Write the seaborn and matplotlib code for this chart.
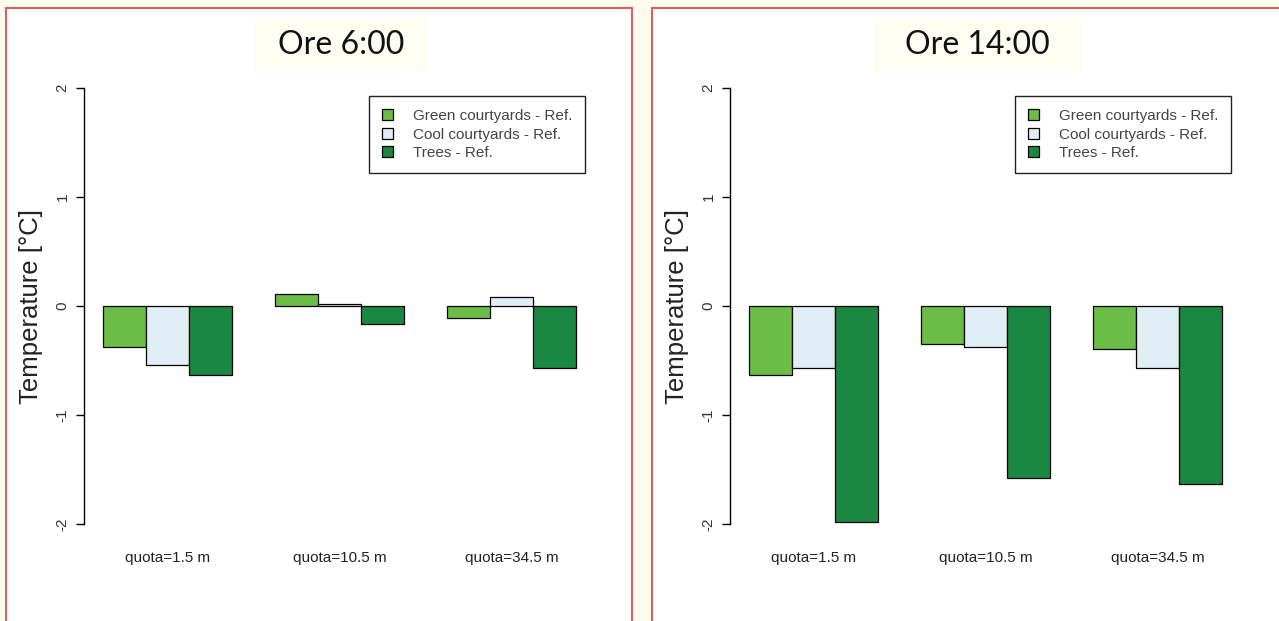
import pandas as pd
import matplotlib.pyplot as plt
import seaborn as sns
from matplotlib.patches import Rectangle

# data
quote = ["quota=1.5 m", "quota=10.5 m", "quota=34.5 m"]
series = ["Green courtyards - Ref.", "Cool courtyards - Ref.", "Trees - Ref."]
green_06 = [-0.375, 0.108, -0.112]
cool_06 = [-0.537, 0.022, 0.083]
trees_06 = [-0.630, -0.162, -0.566]
green_14 = [-0.630, -0.350, -0.393]
cool_14 = [-0.573, -0.375, -0.573]
trees_14 = [-1.978, -1.575, -1.632]
titles = ["Ore 6:00", "Ore 14:00"]
yticks = [-2, -1, 0, 1, 2]

colors = ["#6cbd45", "#dfeff5", "#1a8743"]

sns.set_theme(style="white")
plt.rcParams['font.family'] = ['Liberation Sans', 'DejaVu Sans']

W, H = 1279, 621
fig = plt.figure(figsize=(W / 100, H / 100), dpi=100)
fig.patch.set_facecolor("#fffcef")

def px(x0, y0, x1, y1):
    # pixel box -> figure fraction [left, bottom, width, height]
    return [x0 / W, 1 - y1 / H, (x1 - x0) / W, (y1 - y0) / H]

# white panels with red frame, behind the axes
for fx0, fx1 in [(6, 632), (652, 1285)]:
    fig.patches.append(Rectangle((fx0 / W, -0.05), (fx1 - fx0) / W, 1 - 8 / H + 0.05,
                                 transform=fig.transFigure, facecolor="white",
                                 edgecolor="#d9625c", linewidth=1.5, zorder=-5))

panels = [
    (titles[0], [green_06, cool_06, trees_06], 84, 595, (255, 428)),
    (titles[1], [green_14, cool_14, trees_14], 730, 1241, (873, 1081)),
]

for title, vals, ax0, ax1, (bx0, bx1) in panels:
    rows = []
    for s, v in zip(series, vals):
        for q, val in zip(quote, v):
            rows.append({"quota": q, "series": s, "value": val})
    df = pd.DataFrame(rows)

    ax = fig.add_axes(px(ax0, 70.6, ax1, 541.4))
    ax.set_facecolor("none")
    sns.barplot(data=df, x="quota", y="value", hue="series", palette=colors,
                width=0.75, edgecolor="black", linewidth=0.9, ax=ax,
                errorbar=None, saturation=1)
    ax.set_xlim(-0.485, 2.485)
    ax.set_ylim(-2.16, 2.16)
    ax.set_yticks(yticks)
    ax.set_yticklabels([str(t) for t in yticks], rotation=90, va="center", fontsize=11,
                       color="#333333")
    for s in ["top", "right", "bottom"]:
        ax.spines[s].set_visible(False)
    ax.spines["left"].set_bounds(-2, 2)
    ax.spines["left"].set_color("black")
    ax.spines["left"].set_linewidth(1.0)
    ax.tick_params(axis="y", left=True, length=5.5, width=1.0, pad=5, color="black")
    ax.tick_params(axis="x", bottom=False, labelsize=11, pad=1, colors="#222222")
    ax.set_xlabel("")
    ax.set_ylabel("Temperature [°C]", fontsize=18.5, labelpad=9, color="#222222")

    leg = ax.legend(loc="upper right", bbox_to_anchor=(0.981, 0.946), fontsize=11,
                    frameon=True, fancybox=False, framealpha=1, edgecolor="#222222",
                    handlelength=0.7, handleheight=0.7, handletextpad=1.3,
                    labelspacing=0.3, borderpad=0.85, borderaxespad=0)
    leg.get_frame().set_linewidth(1.0)
    for t in leg.get_texts():
        t.set_color("#444444")

    # cream title box
    fig.patches.append(Rectangle((bx0 / W, 1 - 72 / H), (bx1 - bx0) / W, 55 / H,
                                 transform=fig.transFigure, facecolor="#fdfdf2",
                                 edgecolor="none", zorder=-4))
    fig.text((bx0 + bx1) / 2 / W, 1 - 45 / H, title, ha="center", va="center",
             fontsize=23, family=["Lato", "DejaVu Sans"], color="#111111")

fig.savefig("out.png", dpi=100, facecolor=fig.get_facecolor())
